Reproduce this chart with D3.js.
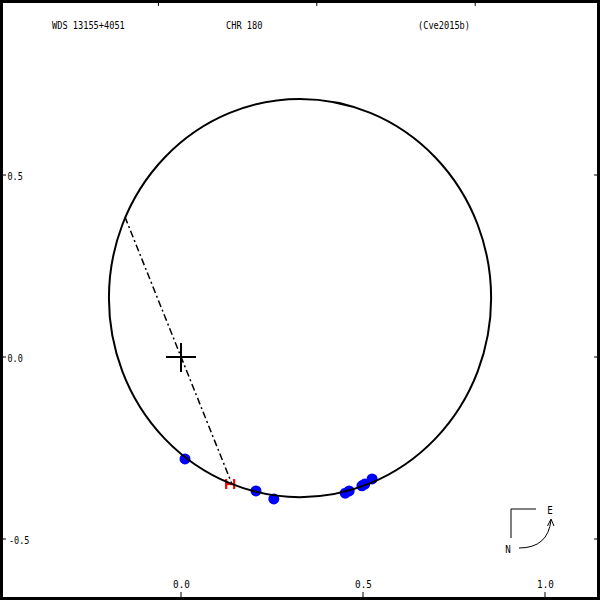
<!DOCTYPE html>
<html><head><meta charset="utf-8">
<script src="https://cdn.jsdelivr.net/npm/d3@7/dist/d3.min.js"></script>
<style>html,body{margin:0;padding:0;background:#fff}svg{display:block}</style>
</head><body>
<svg id="c" width="600" height="600"></svg>
<script>
// ---- data ----
const titleLeft = "WDS 13155+4051";
const titleMid = "CHR 180";
const titleRight = "(Cve2015b)";
const xTicks = [0.0, 0.5, 1.0];
const xTickLabels = ["0.0", "0.5", "1.0"];
const yTicks = [0.5, 0.0, -0.5];
const yTickLabels = ["0.5", "0.0", "-0.5"];
// orbit ellipse (center x, center y, semi-axis x, semi-axis y) in arcsec
const orbitCenter = [0.327, 0.162];
const orbitSemiAxes = [0.525, 0.547];
// line of nodes end points
const nodeLine = [[-0.154, 0.385], [0.140, -0.349]];
// measurements (blue dots)
const obsX = [0.011, 0.206, 0.255, 0.451, 0.462, 0.497, 0.505, 0.525];
const obsY = [-0.280, -0.368, -0.390, -0.374, -0.368, -0.354, -0.349, -0.335];
// speckle / special measurement (red marker)
const redX = [0.135];
const redY = [-0.349];
// ---- drawing ----
const svg = d3.select("#c");
const W = 600, H = 600;
const x = d3.scaleLinear().domain([0, 1]).range([181, 545]);
const y = d3.scaleLinear().domain([0.5, -0.5]).range([175, 539]);
const font = "'DejaVu Sans Mono', monospace";

function txt(s, px, py, anchor, cw) {
  const t = svg.append("text").attr("x", px).attr("y", py)
    .attr("font-family", font).attr("font-size", 10.5).attr("fill", "#000")
    .attr("text-anchor", anchor).text(s);
  t.attr("textLength", s.length * cw).attr("lengthAdjust", "spacingAndGlyphs");
  return t;
}

// frame
svg.append("rect").attr("x", 1.5).attr("y", 1.5).attr("width", 597).attr("height", 597)
  .attr("fill", "none").attr("stroke", "#000").attr("stroke-width", 3);

// top frame ticks
[0.264, 0.528, 0.792].forEach(f => {
  svg.append("line").attr("x1", f * W).attr("x2", f * W).attr("y1", 0).attr("y2", 6)
    .attr("stroke", "#000").attr("stroke-width", 1);
});

// titles
txt(titleLeft, 52, 29, "start", 5.2);
txt(titleMid, 226, 29, "start", 5.2);
txt(titleRight, 418, 29, "start", 5.2);

// x ticks and labels
xTicks.forEach((v, i) => {
  svg.append("line").attr("x1", x(v)).attr("x2", x(v)).attr("y1", 592).attr("y2", 600)
    .attr("stroke", "#000").attr("stroke-width", 1);
  txt(xTickLabels[i], x(v) + 0.5, 588, "middle", 5.6);
});
// y ticks and labels
yTicks.forEach((v, i) => {
  svg.append("line").attr("x1", 0).attr("x2", 6).attr("y1", y(v)).attr("y2", y(v))
    .attr("stroke", "#000").attr("stroke-width", 1);
  svg.append("line").attr("x1", 594).attr("x2", 600).attr("y1", y(v)).attr("y2", y(v))
    .attr("stroke", "#000").attr("stroke-width", 1);
  txt(yTickLabels[i], yTickLabels[i].startsWith("-") ? 9 : 7.5, y(v) + 5, "start", 5.1);
});

// line of nodes
svg.append("line")
  .attr("x1", x(nodeLine[0][0])).attr("y1", y(nodeLine[0][1]))
  .attr("x2", x(nodeLine[1][0])).attr("y2", y(nodeLine[1][1]))
  .attr("stroke", "#000").attr("stroke-width", 1.5).attr("stroke-dasharray", "7,3,2,3");

// primary cross
svg.append("line").attr("x1", x(0) - 15).attr("x2", x(0) + 15).attr("y1", y(0)).attr("y2", y(0))
  .attr("stroke", "#000").attr("stroke-width", 2);
svg.append("line").attr("x1", x(0)).attr("x2", x(0)).attr("y1", y(0) - 14).attr("y2", y(0) + 15)
  .attr("stroke", "#000").attr("stroke-width", 2);

// observations
svg.selectAll("circle.obs").data(obsX.map((v, i) => [v, obsY[i]])).enter()
  .append("circle").attr("class", "obs")
  .attr("cx", d => x(d[0])).attr("cy", d => y(d[1])).attr("r", 5.5)
  .attr("fill", "#0000ff");

// red marker
redX.forEach((v, i) => {
  const cx = x(v), cy = y(redY[i]);
  const g = svg.append("g").attr("stroke", "#ff0000").attr("stroke-width", 2.2);
  g.append("line").attr("x1", cx - 4).attr("x2", cx - 4).attr("y1", cy - 5).attr("y2", cy + 5);
  g.append("line").attr("x1", cx + 4).attr("x2", cx + 4).attr("y1", cy - 5).attr("y2", cy + 5);
  g.append("line").attr("x1", cx - 4).attr("x2", cx + 4).attr("y1", cy).attr("y2", cy);
});

// orbit (on top of marks)
svg.append("ellipse")
  .attr("cx", x(orbitCenter[0])).attr("cy", y(orbitCenter[1]))
  .attr("rx", x(orbitSemiAxes[0]) - x(0)).attr("ry", y(0) - y(orbitSemiAxes[1]))
  .attr("fill", "none").attr("stroke", "#000").attr("stroke-width", 2);

// compass
const cg = svg.append("g").attr("stroke", "#000").attr("stroke-width", 1).attr("fill", "none");
cg.append("path").attr("d", "M511,538 L511,509 L536,509");
cg.append("path").attr("d", "M519,548 Q548,548 551,520");
cg.append("path").attr("d", "M547.5,526 L551,519 L554,526");
txt("E", 550, 514, "middle", 5.5);
txt("N", 508, 553, "middle", 5.5);
</script>
</body></html>
